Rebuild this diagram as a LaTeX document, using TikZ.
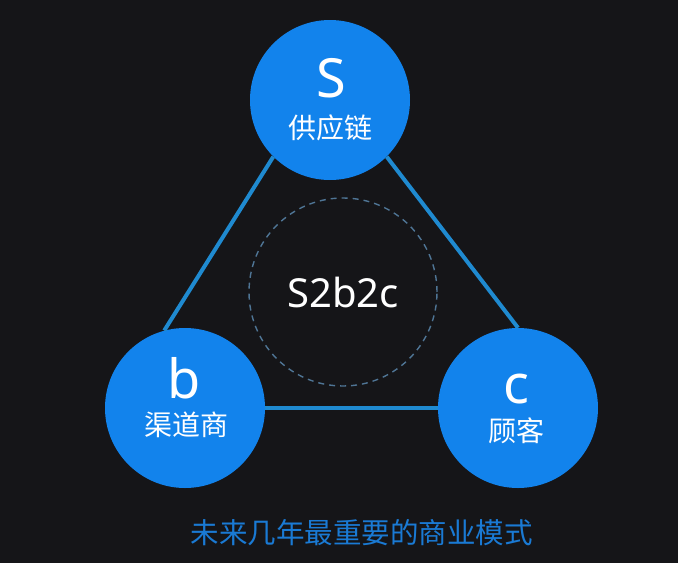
\documentclass[tikz,border=0pt]{standalone}
\usepackage{fontspec}
\newfontfamily\cjk{Noto Sans CJK SC}
\newfontfamily\lat{Noto Sans}
\definecolor{bg}{HTML}{151518}
\definecolor{nodeblue}{HTML}{1283EC}
\definecolor{lineblue}{HTML}{1F8AD0}
\definecolor{dashblue}{HTML}{4F7595}
\definecolor{capblue}{HTML}{1A7AD4}
\tikzset{
  bigcirc/.style={circle, fill=nodeblue, draw=none, minimum size=160pt, inner sep=0pt},
  link/.style={draw=lineblue, line width=4pt},
  letter/.style={text=white, font=\lat\fontsize{54}{60}\selectfont, anchor=base, inner sep=0pt},
  cjklabel/.style={text=white, font=\cjk\fontsize{28}{32}\selectfont, inner sep=0pt},
}
\begin{document}
\begin{tikzpicture}[x=1pt,y=-1pt]
\fill[bg] (0,0) rectangle (678,563);
\useasboundingbox (0,0) rectangle (678,563);
% dashed centre circle
\node[circle, draw=dashblue, line width=1.4pt, dash pattern=on 6pt off 5pt, minimum size=188pt, inner sep=0pt] (mid) at (343,292) {};
% circles
\node[bigcirc] (S) at (330,100) {};
\node[bigcirc] (b) at (185,408) {};
\node[bigcirc] (c) at (518,408) {};
% connectors
\draw[link] (S.225) -- (b.105);
\draw[link] (S.315) -- (c.90);
\draw[link] (b.0) -- (c.180);
% texts
\node[letter] (St) at (331,97) {S};
\node[cjklabel] (Sl) at (330.5,128) {供应链};
\node[letter] (bt) at (184,398) {b};
\node[cjklabel] (bl) at (186.5,425) {渠道商};
\node[letter] (ct) at (516,403) {c};
\node[cjklabel] (cl) at (516.5,431) {顾客};
\node[text=white, font=\lat\fontsize{40}{46}\selectfont, anchor=base, inner sep=0pt] (mt) at (343,307) {S2b2c};
\node[text=capblue, font=\cjk\fontsize{28.5}{32}\selectfont, inner sep=0pt] (cap) at (361.5,533) {未来几年最重要的商业模式};
\end{tikzpicture}
\end{document}
